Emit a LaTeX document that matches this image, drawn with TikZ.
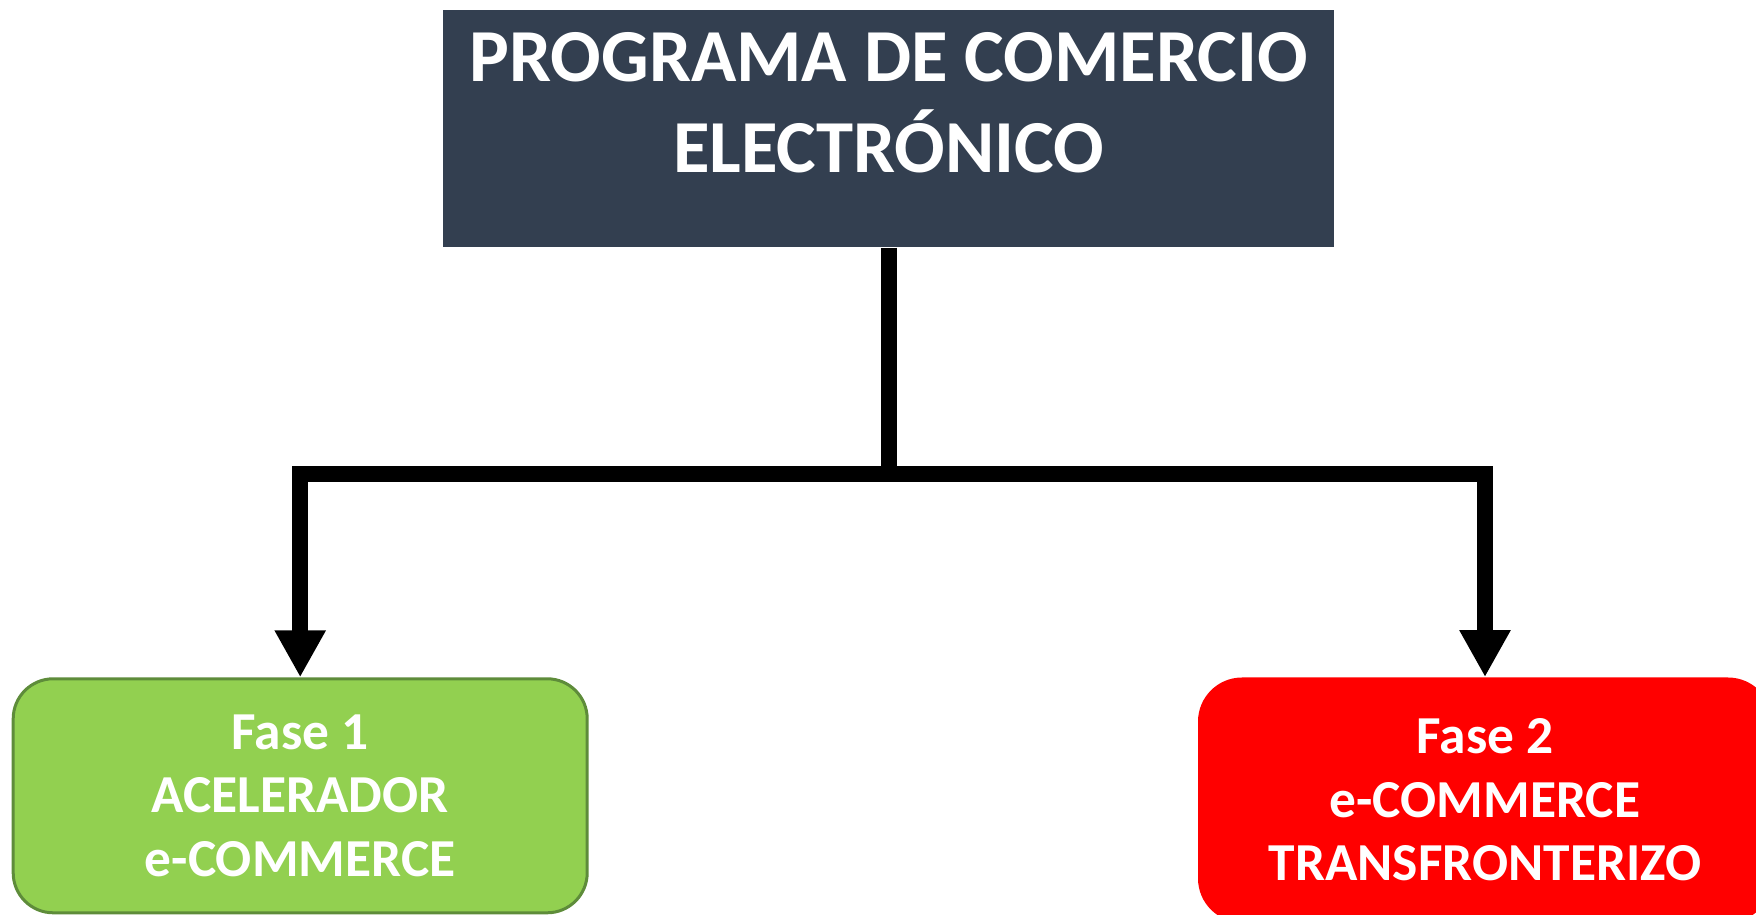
\documentclass[tikz,border=0pt]{standalone}
\usepackage{fontspec}
\setmainfont{Carlito}
\usetikzlibrary{arrows.meta}

\definecolor{slate}{HTML}{333F50}
\definecolor{leafgreen}{HTML}{92D050}
\definecolor{leafedge}{HTML}{5E8C3A}

\begin{document}
\begin{tikzpicture}[x=0.5pt,y=0.5pt,
    link/.style={line width=8pt, -{Triangle[length=23.5pt,width=24pt]}},
    fase/.style={rounded corners=20pt, minimum width=287pt, text=white, align=center,
        font=\fontsize{26.7}{31.7}\selectfont\bfseries}]
  \useasboundingbox (0,0) rectangle (1756,915);
  \clip (0,0) rectangle (1756,915);
  \node[fill=slate, minimum width=445.25pt, minimum height=118.75pt, inner sep=0pt] (title) at (888.7,786.25) {};
  \node[text=white, align=center, font=\fontsize{37.4}{45.7}\selectfont\bfseries] (titletext) at (888.7,812) {PROGRAMA DE COMERCIO\\ELECTRÓNICO};
  \node[fase, fill=leafgreen, draw=leafedge, line width=1.5pt, minimum height=117pt] (fase1) at (300.2,119.2) {Fase 1\\ACELERADOR\\e-COMMERCE};
  \node[fase, fill=red, rounded corners=22pt, minimum height=122.5pt] (fase2) at (1485,115) {Fase 2\\e-COMMERCE\\TRANSFRONTERIZO};
  \coordinate (branch) at (888.7,441);
  \draw[link] (title.south) -- (branch) -| (fase1.north);
  \draw[link] (title.south) -- (branch) -| (fase2.north);
\end{tikzpicture}
\end{document}
